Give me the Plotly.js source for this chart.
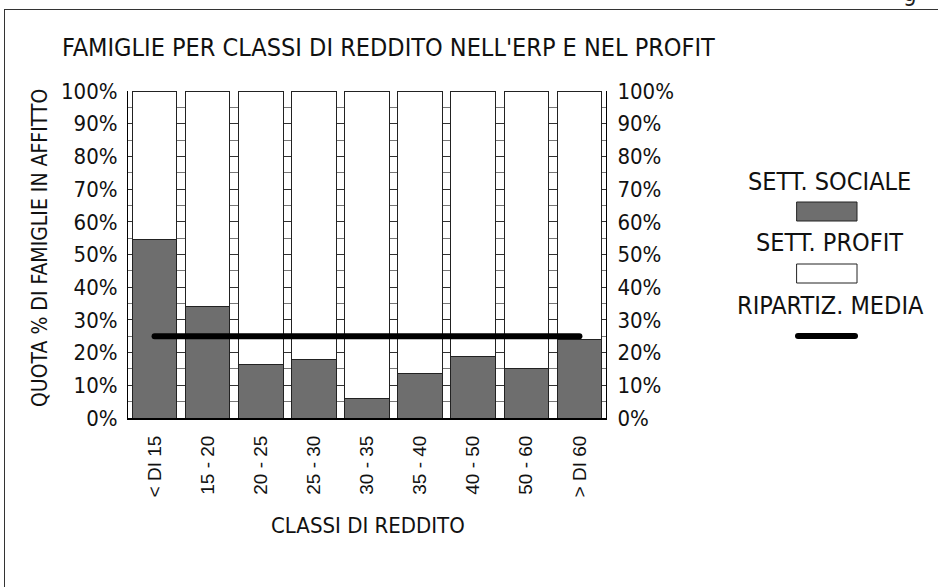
<!DOCTYPE html>
<html><head><meta charset="utf-8">
<script src="https://cdn.plot.ly/plotly-3.0.1.min.js"></script>
<style>
html,body{margin:0;padding:0;background:#fff;overflow:hidden;width:938px;height:587px;}
#frame{position:absolute;left:4px;top:9px;width:1000px;height:1000px;border:1px solid #333;box-sizing:border-box;}
#g{position:absolute;left:903px;top:-21px;font:24px 'DejaVu Sans Condensed',sans-serif;color:#222;}
#chart{position:absolute;left:0;top:0;width:938px;height:587px;}
.js-line{stroke-linecap:round !important;}
.shapelayer path{stroke-linecap:round;}
</style></head><body>
<div id="frame"></div><div id="g">g</div><div id="chart"></div>
<script>
const categories = ['< DI 15','15 - 20','20 - 25','25 - 30','30 - 35','35 - 40','40 - 50','50 - 60','> DI 60'];
const socialeValues = [54.5, 34.2, 16.4, 17.8, 6.1, 13.6, 18.7, 15.2, 23.9];
const profitValues  = [45.5, 65.8, 83.6, 82.2, 93.9, 86.4, 81.3, 84.8, 76.1];
const mediaValues   = [25, 25, 25, 25, 25, 25, 25, 25, 25];
const yTickValues = [0,10,20,30,40,50,60,70,80,90,100];
const yTickLabels = ['0%','10%','20%','30%','40%','50%','60%','70%','80%','90%','100%'];

const NARROW = "'Liberation Sans Narrow','DejaVu Sans Condensed',sans-serif";
const REG = "'Liberation Sans',Arial,sans-serif";

const traces = [
  {type:'bar', name:'SETT. SOCIALE', x:categories, y:socialeValues,
   marker:{color:'#6e6e6e', line:{color:'#222', width:1}}, hoverinfo:'none'},
  {type:'bar', name:'SETT. PROFIT', x:categories, y:profitValues,
   marker:{color:'#ffffff', line:{color:'#222', width:1}}, hoverinfo:'none'},
  {type:'scatter', mode:'lines', name:'RIPARTIZ. MEDIA', x:categories, y:mediaValues,
   line:{color:'#000', width:6}, hoverinfo:'none'},
  {type:'scatter', mode:'lines', x:categories, y:mediaValues, yaxis:'y2',
   line:{color:'rgba(0,0,0,0)', width:0}, hoverinfo:'none', showlegend:false}
];

function px2x(p){return (p-128)/478;}
function px2y(p){return (418-p)/327;}

const layout = {
  width:938, height:587,
  margin:{l:128, r:332, t:91, b:169, pad:0},
  paper_bgcolor:'rgba(0,0,0,0)', plot_bgcolor:'rgba(0,0,0,0)',
  barmode:'stack', bargap:0.16, showlegend:false,
  title:{text:"FAMIGLIE PER CLASSI DI REDDITO NELL'ERP E NEL PROFIT",
    font:{family:NARROW, size:25, color:'#111'}, x:62/938, xanchor:'left', y:1-47/587, yanchor:'middle'},
  xaxis:{type:'category', showline:true, linecolor:'#000', linewidth:2,
    tickangle:-90, tickfont:{family:REG, size:19, color:'#111'}, ticks:'', ticklabelstandoff:8,
    showgrid:false, zeroline:false, fixedrange:true},
  yaxis:{range:[0,100], tickvals:yTickValues, ticktext:yTickLabels, showline:true, linecolor:'#000', linewidth:1,
    tickfont:{family:NARROW, size:22, color:'#111'}, ticks:'', ticklabelstandoff:5,
    showgrid:true, gridcolor:'#333', gridwidth:1,
    minor:{dtick:5, showgrid:true, gridcolor:'#777', gridwidth:1},
    zeroline:false, fixedrange:true},
  yaxis2:{range:[0,100], overlaying:'y', side:'right', tickvals:yTickValues, ticktext:yTickLabels,
    showline:true, linecolor:'#000', linewidth:1, showgrid:false, zeroline:false,
    tickfont:{family:NARROW, size:22, color:'#111'}, ticks:'', ticklabelstandoff:6, fixedrange:true},
  shapes:[
    {type:'rect', xref:'paper', yref:'paper', x0:px2x(797), x1:px2x(857), y0:px2y(221), y1:px2y(202),
     fillcolor:'#6e6e6e', line:{color:'#222', width:1}},
    {type:'rect', xref:'paper', yref:'paper', x0:px2x(797), x1:px2x(857), y0:px2y(283), y1:px2y(264),
     fillcolor:'#fff', line:{color:'#222', width:1}},
    {type:'line', xref:'paper', yref:'paper', x0:px2x(798), x1:px2x(855), y0:px2y(336), y1:px2y(336),
     line:{color:'#000', width:6}}
  ],
  annotations:[
    {text:'SETT. SOCIALE', xref:'paper', yref:'paper', x:px2x(829.5), y:px2y(181), xanchor:'center', yanchor:'middle', showarrow:false, font:{family:NARROW, size:25, color:'#111'}},
    {text:'SETT. PROFIT', xref:'paper', yref:'paper', x:px2x(829.5), y:px2y(242), xanchor:'center', yanchor:'middle', showarrow:false, font:{family:NARROW, size:25, color:'#111'}},
    {text:'RIPARTIZ. MEDIA', xref:'paper', yref:'paper', x:px2x(830), y:px2y(305), xanchor:'center', yanchor:'middle', showarrow:false, font:{family:NARROW, size:25, color:'#111'}},
    {text:'QUOTA % DI FAMIGLIE IN AFFITTO', xref:'paper', yref:'paper', x:px2x(40), y:px2y(248), xanchor:'center', yanchor:'middle', textangle:-90, showarrow:false, font:{family:NARROW, size:21, color:'#111'}},
    {text:'CLASSI DI REDDITO', xref:'paper', yref:'paper', x:px2x(368), y:px2y(525), xanchor:'center', yanchor:'middle', showarrow:false, font:{family:NARROW, size:22, color:'#111'}}
  ]
};
Plotly.newPlot('chart', traces, layout, {displayModeBar:false, staticPlot:true});
</script></body></html>
